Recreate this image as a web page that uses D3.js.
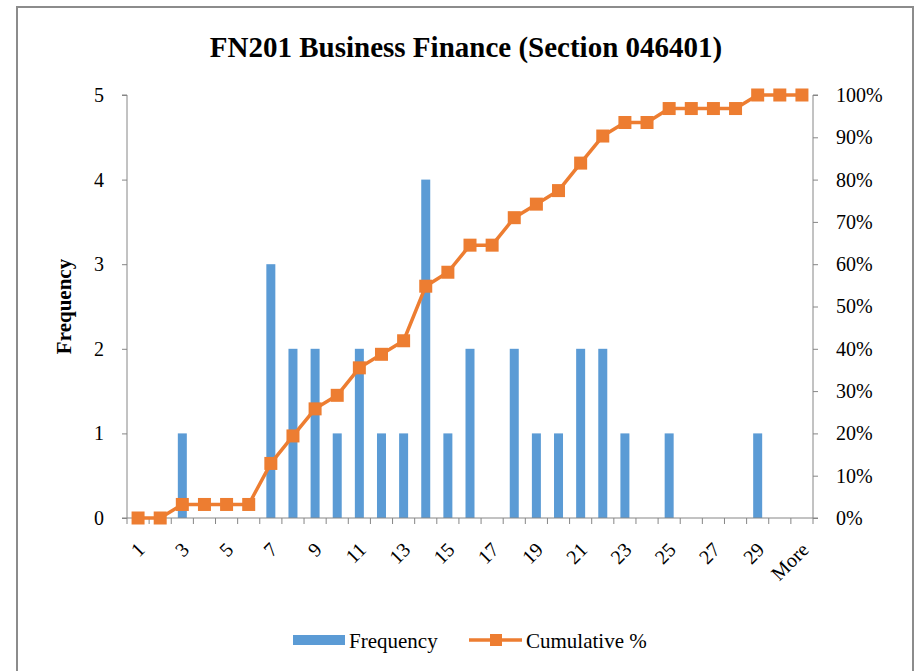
<!DOCTYPE html>
<html>
<head>
<meta charset="utf-8">
<script src="https://cdn.jsdelivr.net/npm/d3@7"></script>
<style>
  body { margin: 0; background: #fff; }
  text { font-family: "Liberation Serif", "Times New Roman", serif; }
</style>
</head>
<body>
<div id="chart"></div>
<script>
const categories = ["1","2","3","4","5","6","7","8","9","10","11","12","13","14","15","16","17","18","19","20","21","22","23","24","25","26","27","28","29","30","More"];
const frequency = [0,0,1,0,0,0,3,2,2,1,2,1,1,4,1,2,0,2,1,1,2,2,1,0,1,0,0,0,1,0,0];
const cumulative = [0,0,3.2,3.2,3.2,3.2,12.9,19.4,25.8,29.0,35.5,38.7,41.9,54.8,58.1,64.5,64.5,71.0,74.2,77.4,83.9,90.3,93.5,93.5,96.8,96.8,96.8,96.8,100,100,100];
const freqTicks = [0,1,2,3,4,5];
const pctTicks = [0,10,20,30,40,50,60,70,80,90,100];

const W = 919, H = 671;
const margin = {top: 95, right: 106, bottom: 153, left: 127};
const width = W - margin.left - margin.right,
      height = H - margin.top - margin.bottom;

const svg = d3.select("#chart").append("svg")
    .attr("width", W).attr("height", H);

// chart frame
svg.append("rect")
    .attr("x", 17).attr("y", 7)
    .attr("width", 896).attr("height", 680)
    .attr("fill", "#fff").attr("stroke", "#8c8c8c").attr("stroke-width", 2);

svg.append("text")
    .attr("x", 466).attr("y", 57)
    .attr("text-anchor", "middle")
    .attr("font-size", "29px").attr("font-weight", "bold")
    .text("FN201 Business Finance (Section 046401)");

const g = svg.append("g").attr("transform", `translate(${margin.left},${margin.top})`);

const x = d3.scaleBand().domain(categories).range([0, width]);
const y = d3.scaleLinear().domain([0, 5]).range([height, 0]);
const y2 = d3.scaleLinear().domain([0, 100]).range([height, 0]);

const axisColor = "#868686";
const tickFont = "20px";

// left axis
const yAxis = g.append("g")
    .call(d3.axisLeft(y).tickValues(freqTicks).tickSize(5).tickPadding(18).tickFormat(d3.format("d")));
yAxis.select(".domain").attr("stroke", axisColor).attr("d", `M-5,${height}H0V0H-5`);
yAxis.selectAll(".tick line").attr("stroke", axisColor);
yAxis.selectAll("text").attr("font-size", tickFont).attr("fill", "#000");

// right axis
const yAxis2 = g.append("g").attr("transform", `translate(${width},0)`)
    .call(d3.axisRight(y2).tickValues(pctTicks).tickSize(5).tickPadding(18).tickFormat(d => d + "%"));
yAxis2.select(".domain").attr("stroke", axisColor).attr("d", `M5,${height}H0V0H5`);
yAxis2.selectAll(".tick line").attr("stroke", axisColor);
yAxis2.selectAll("text").attr("font-size", tickFont).attr("fill", "#000");

// bars
const barW = 9;
g.selectAll(".bar").data(frequency).enter().append("rect")
    .attr("x", (d, i) => x(categories[i]) + x.bandwidth() / 2 - barW / 2)
    .attr("y", d => y(d))
    .attr("width", barW)
    .attr("height", d => height - y(d))
    .attr("fill", "#5B9BD5");

// bottom axis with ticks at category boundaries
const xAxisG = g.append("g").attr("transform", `translate(0,${height})`);
xAxisG.append("line").attr("x1", 0).attr("x2", width).attr("stroke", axisColor);
xAxisG.selectAll(".bt").data(d3.range(categories.length + 1)).enter().append("line")
    .attr("x1", i => i * x.step()).attr("x2", i => i * x.step())
    .attr("y1", 0).attr("y2", 6).attr("stroke", axisColor);
xAxisG.selectAll(".xl").data(categories.filter((c, i) => i % 2 === 0)).enter().append("text")
    .attr("transform", d => `translate(${x(d) + x.bandwidth() / 2 + 8},${33}) rotate(-45)`)
    .attr("text-anchor", "end")
    .attr("font-size", tickFont)
    .text(d => d);

// cumulative line
const line = d3.line()
    .x((d, i) => x(categories[i]) + x.bandwidth() / 2)
    .y(d => y2(d));
g.append("path").datum(cumulative)
    .attr("d", line)
    .attr("fill", "none").attr("stroke", "#ED7D31").attr("stroke-width", 3.5)
    .attr("stroke-linejoin", "round");
const mk = 13;
g.selectAll(".mk").data(cumulative).enter().append("rect")
    .attr("x", (d, i) => x(categories[i]) + x.bandwidth() / 2 - mk / 2)
    .attr("y", d => y2(d) - mk / 2)
    .attr("width", mk).attr("height", mk)
    .attr("fill", "#ED7D31");

// y label
svg.append("text")
    .attr("transform", `translate(71,${margin.top + height / 2}) rotate(-90)`)
    .attr("text-anchor", "middle")
    .attr("font-size", "21px").attr("font-weight", "bold")
    .text("Frequency");

// legend
const lg = svg.append("g");
lg.append("rect").attr("x", 293).attr("y", 635).attr("width", 52).attr("height", 10).attr("fill", "#5B9BD5");
lg.append("text").attr("x", 349).attr("y", 648).attr("font-size", "21px").text("Frequency");
lg.append("line").attr("x1", 469).attr("x2", 522).attr("y1", 640).attr("y2", 640)
    .attr("stroke", "#ED7D31").attr("stroke-width", 3.5);
lg.append("rect").attr("x", 490).attr("y", 634).attr("width", 12).attr("height", 12).attr("fill", "#ED7D31");
lg.append("text").attr("x", 526).attr("y", 648).attr("font-size", "21px").text("Cumulative %");
</script>
</body>
</html>
